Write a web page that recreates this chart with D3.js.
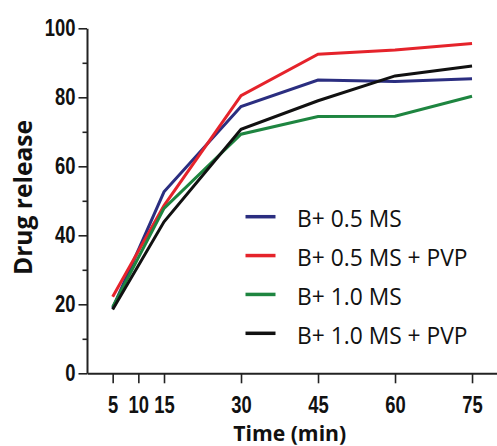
<!DOCTYPE html>
<html>
<head>
<meta charset="utf-8">
<script src="https://cdn.jsdelivr.net/npm/d3@7"></script>
<style>
  html, body { margin: 0; padding: 0; background: #fff; }
  svg { display: block; }
</style>
</head>
<body>
<svg id="chart" width="497" height="446"></svg>
<script>
// ---- data ----
const times = [5, 15, 30, 45, 60, 75];
const xTicks = [5, 10, 15, 30, 45, 60, 75];
const yTicks = [0, 20, 40, 60, 80, 100];
const yMinorTicks = [10, 30, 50, 70, 90];
const seriesNames = ["B+ 0.5 MS", "B+ 0.5 MS + PVP", "B+ 1.0 MS", "B+ 1.0 MS + PVP"];
const b05ms = [18.9, 52.6, 77.3, 85.0, 84.6, 85.4];
const b05msPvp = [22.2, 48.6, 80.5, 92.5, 93.7, 95.6];
const b10ms = [19.2, 47.8, 69.3, 74.4, 74.5, 80.3];
const b10msPvp = [18.5, 43.9, 70.7, 79.0, 86.2, 89.1];
const seriesColors = ["#2b2e80", "#e5232b", "#1e8540", "#111111"];
const xTitle = "Time (min)";
const yTitle = "Drug release";

const seriesValues = [b05ms, b05msPvp, b10ms, b10msPvp];

const svg = d3.select("#chart");
const x = d3.scaleLinear().domain([0, 80]).range([87, 497.7]);
const y = d3.scaleLinear().domain([0, 100]).range([373.3, 28.3]);

const tickFont = '"Liberation Sans", Arial, sans-serif';
const squeeze = 0.8;

// x axis
const gx = svg.append("g").attr("transform", `translate(0,${y(0)})`)
  .call(d3.axisBottom(x).tickValues(xTicks).tickSize(10).tickSizeOuter(0).tickPadding(13).tickFormat(d3.format("d")));
// y minor
const gym = svg.append("g").attr("transform", `translate(${x(0)},0)`)
  .call(d3.axisLeft(y).tickValues(yMinorTicks).tickSize(4.5).tickSizeOuter(0).tickFormat(""));
gym.select(".domain").remove();
// y axis
const gy = svg.append("g").attr("transform", `translate(${x(0)},0)`)
  .call(d3.axisLeft(y).tickValues(yTicks).tickSize(8.5).tickSizeOuter(0).tickPadding(3).tickFormat(d3.format("d")));

[gx, gy, gym].forEach(g => {
  g.selectAll(".domain").attr("stroke", "#222").attr("stroke-width", 2);
  g.selectAll(".tick line").attr("stroke", "#222").attr("stroke-width", 1.6);
  g.selectAll(".tick text").attr("fill", "#111")
    .style("font-family", tickFont).style("font-weight", "bold").style("font-size", "23px")
    .each(function() {
      const t = d3.select(this);
      const ox = +t.attr("x") || 0;
      t.attr("x", ox / squeeze).attr("transform", `scale(${squeeze},1)`);
    });
});

// lines
const line = d3.line().x((d, i) => x(times[i])).y(d => y(d));
seriesValues.forEach((vals, k) => {
  svg.append("path").datum(vals)
    .attr("fill", "none")
    .attr("stroke", seriesColors[k])
    .attr("stroke-width", 3)
    .attr("stroke-linejoin", "miter")
    .attr("d", line);
});

// legend
const legendY = d3.scalePoint().domain(seriesNames).range([216.7, 333.3]);
const lg = svg.append("g");
seriesNames.forEach((name, k) => {
  const yy = legendY(name);
  lg.append("line").attr("x1", 245.5).attr("x2", 275.5).attr("y1", yy).attr("y2", yy)
    .attr("stroke", seriesColors[k]).attr("stroke-width", 3.5);
  lg.append("text").attr("x", 297).attr("y", yy + 10.5)
    .style("font-family", '"Open Sans", sans-serif').style("font-size", "22.8px")
    .attr("fill", "#111").text(name);
});

// axis titles
svg.append("text")
  .attr("transform", "translate(31.5,197.5) rotate(-90)")
  .attr("text-anchor", "middle")
  .attr("textLength", 155).attr("lengthAdjust", "spacingAndGlyphs")
  .style("font-family", '"Open Sans", sans-serif').style("font-weight", "bold").style("font-size", "25px")
  .attr("fill", "#111").text(yTitle);
svg.append("text")
  .attr("x", 289.7).attr("y", 440.5)
  .attr("text-anchor", "middle")
  .attr("textLength", 113).attr("lengthAdjust", "spacingAndGlyphs")
  .style("font-family", '"Open Sans", sans-serif').style("font-weight", "bold").style("font-size", "22px")
  .attr("fill", "#111").text(xTitle);
</script>
</body>
</html>
